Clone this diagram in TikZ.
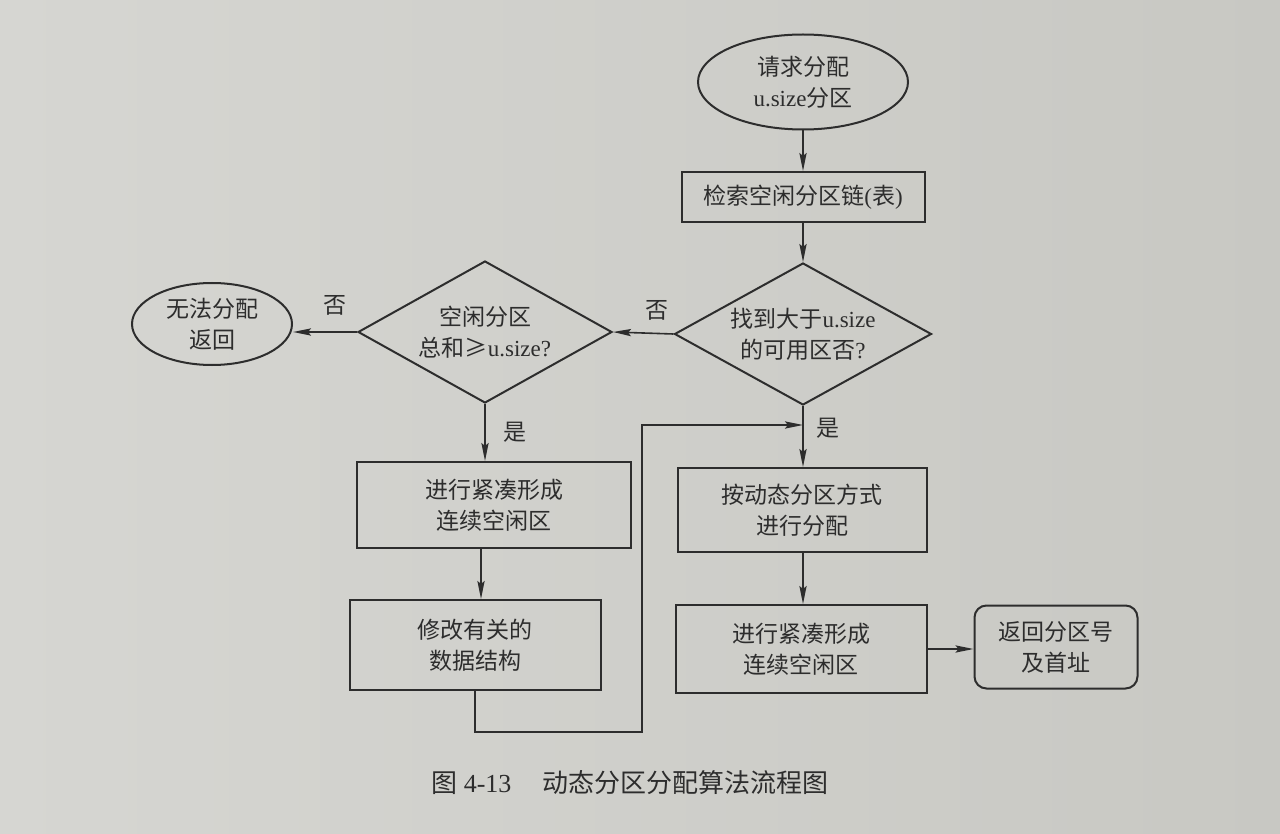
\documentclass[tikz,border=0pt]{standalone}
\usepackage{fontspec}
\setmainfont{Liberation Serif}
\newfontfamily\cjk{Noto Sans CJK SC}
\usetikzlibrary{shapes.geometric,arrows.meta}
\definecolor{paper}{RGB}{214,214,210}
\definecolor{paperR}{RGB}{200,200,195}
\definecolor{ink}{RGB}{45,45,45}
\newcommand{\zh}[1]{{\cjk #1}}
\begin{document}
\begin{tikzpicture}[x=0.5pt,y=-0.5pt,
  every node/.style={text=ink, font=\fontsize{11.5}{15.5}\selectfont, align=center, inner sep=0pt},
  box/.style={draw=ink, line width=1pt, rectangle},
  oval/.style={draw=ink, line width=1pt, ellipse},
  dia/.style={draw=ink, line width=1pt, diamond, aspect=1.8},
  rbox/.style={draw=ink, line width=1pt, rectangle, rounded corners=6pt},
  arr/.style={draw=ink, line width=0.8pt, -{Stealth[length=9pt,width=3.6pt,inset=1.5pt]}},
  lbl/.style={font=\fontsize{11.5}{14}\cjk}
]
\shade[left color=paper, right color=paperR] (0,0) rectangle (1280,834);
\useasboundingbox (0,0) rectangle (1280,834);

\node[oval, minimum width=105pt, minimum height=47.5pt] (start) at (803,82) {\zh{请求分配}\\u.size\zh{分区}};
\node[box, minimum width=121.5pt, minimum height=25pt] (search) at (803,197) {\zh{检索空闲分区链}(\zh{表})};
\node[dia, minimum width=128.5pt, minimum height=71pt] (d1) at (803,334) {\zh{找到大于}u.size\\\zh{的可用区否}?};
\node[dia, minimum width=127pt, minimum height=71pt] (d2) at (485,332) {\zh{空闲分区}\\\zh{总和≥}u.size?};
\node[oval, minimum width=80pt, minimum height=41pt] (fail) at (212,324) {\zh{无法分配}\\\zh{返回}};
\node[box, minimum width=137pt, minimum height=43pt] (compact1) at (494,505) {\zh{进行紧凑形成}\\\zh{连续空闲区}};
\node[box, minimum width=125.5pt, minimum height=45pt] (modify) at (475,645) {\zh{修改有关的}\\\zh{数据结构}};
\node[box, minimum width=124.5pt, minimum height=42pt] (alloc) at (802,510) {\zh{按动态分区方式}\\\zh{进行分配}};
\node[box, minimum width=125.5pt, minimum height=44pt] (compact2) at (801,649) {\zh{进行紧凑形成}\\\zh{连续空闲区}};
\node[rbox, minimum width=81.5pt, minimum height=41.5pt] (ret) at (1056,647) {\zh{返回分区号}\\\zh{及首址}};

\coordinate (loopB) at (642,732);
\coordinate (join) at (803,425);

\draw[arr] (start.south) -- (search.north);
\draw[arr] (search.south) -- (d1.north);
\draw[arr] (d1.west) -- (d2.east);
\draw[arr] (d2.west) -- (d2.west -| fail.east);
\draw[arr] (d2.south) -- (d2.south |- compact1.north);
\draw[arr] (compact1.south -| 481,0) -- (modify.north -| 481,0);
\draw[arr] (modify.south) |- (loopB) |- (join);
\draw[arr] (d1.south) -- (alloc.north -| d1.south);
\draw[arr] (alloc.south -| d1.south) -- (compact2.north -| d1.south);
\draw[arr] (compact2.east) -- (compact2.east -| ret.west);

\node[lbl] (n1) at (335,305) {否};
\node[lbl] (n2) at (657,310) {否};
\node[lbl] (y1) at (515,432) {是};
\node[lbl] (y2) at (828,428) {是};

\node[font=\fontsize{13}{15}\selectfont] (cap) at (630,783) {\zh{图} 4-13\hspace{1.2em}\zh{动态分区分配算法流程图}};
\end{tikzpicture}
\end{document}
